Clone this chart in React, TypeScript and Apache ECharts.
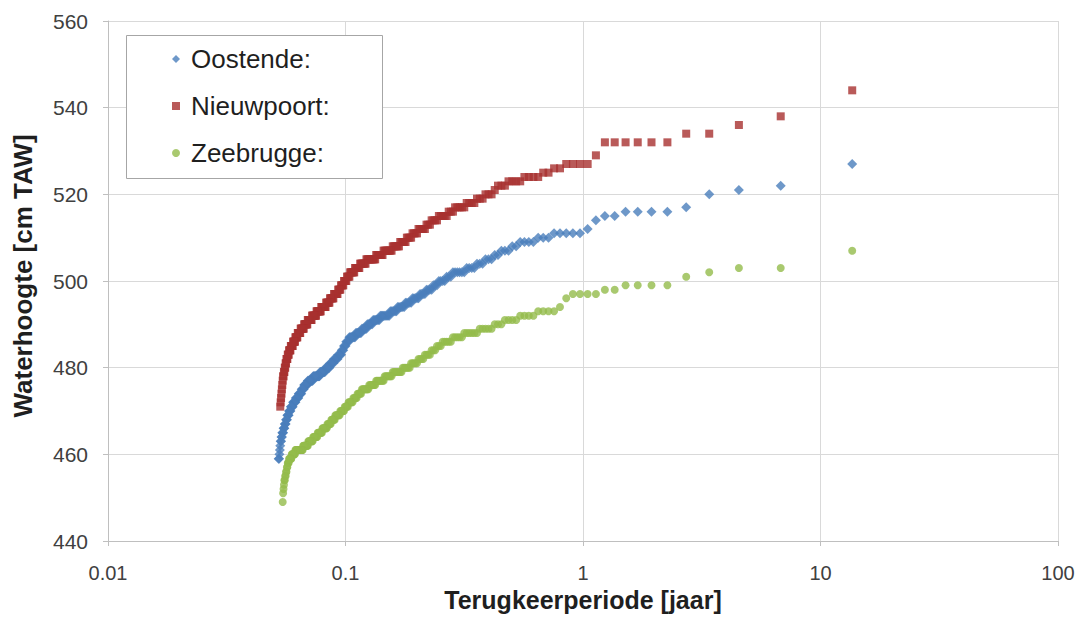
import React, { useEffect, useRef } from "react";
import * as echarts from "echarts";

// Length of the record in years: return period of rank k = recordYears / k
const recordYears = 13.6;

const xTickLabels = ["0.01", "0.1", "1", "10", "100"];
const seriesNames = ["Oostende:", "Nieuwpoort:", "Zeebrugge:"];

// Water levels [cm TAW] sorted from highest to lowest, as [level, number of events]
const oostendeRuns: [number, number][] = [
  [527, 1], [522, 1], [521, 1], [520, 1], [517, 1], [516, 4], [515, 2], [514, 1], [512, 1],
  [511, 5], [510, 3], [509, 4], [508, 2], [507, 3], [506, 2], [505, 3], [504, 3], [503, 4],
  [502, 6], [501, 3], [500, 4], [499, 3], [498, 4], [497, 4], [496, 5], [495, 5], [494, 6],
  [493, 6], [492, 9], [491, 7], [490, 6], [489, 6], [488, 7], [487, 8], [486, 4], [485, 3],
  [484, 3], [483, 5], [482, 6], [481, 6], [480, 7], [479, 9], [478, 12], [477, 10], [476, 7],
  [475, 5], [474, 6], [473, 6], [472, 6], [471, 5], [470, 4], [469, 4], [468, 3], [467, 3],
  [466, 3], [465, 3], [464, 2], [463, 2], [462, 1], [461, 1], [460, 1], [459, 2],
];

const nieuwpoortRuns: [number, number][] = [
  [544, 1], [538, 1], [536, 1], [534, 2], [532, 6], [529, 1], [527, 4], [526, 2], [525, 2],
  [524, 4], [523, 4], [522, 3], [521, 1], [520, 3], [519, 3], [518, 4], [517, 5], [516, 3],
  [515, 5], [514, 4], [513, 3], [512, 5], [511, 4], [510, 4], [509, 5], [508, 6], [507, 8],
  [506, 7], [505, 10], [504, 7], [503, 6], [502, 6], [501, 4], [500, 4], [499, 4], [498, 4],
  [497, 6], [496, 6], [495, 6], [494, 8], [493, 8], [492, 8], [491, 8], [490, 7], [489, 7],
  [488, 6], [487, 5], [486, 5], [485, 5], [484, 4], [483, 3], [482, 3], [481, 2], [480, 2],
  [479, 2], [478, 2], [477, 1], [476, 1], [475, 1], [474, 1], [473, 1], [472, 1], [471, 1],
];

const zeebruggeRuns: [number, number][] = [
  [507, 1], [503, 2], [502, 1], [501, 1], [499, 4], [498, 2], [497, 4], [496, 1], [494, 1],
  [493, 4], [492, 4], [491, 4], [490, 3], [489, 5], [488, 6], [487, 5], [486, 5], [485, 3],
  [484, 3], [483, 4], [482, 4], [481, 5], [480, 6], [479, 8], [478, 7], [477, 8], [476, 7],
  [475, 8], [474, 5], [473, 5], [472, 6], [471, 5], [470, 6], [469, 7], [468, 6], [467, 6],
  [466, 8], [465, 8], [464, 8], [463, 9], [462, 10], [461, 16], [460, 8], [459, 6], [458, 3],
  [457, 2], [456, 2], [455, 2], [454, 2], [453, 1], [452, 1], [451, 1], [449, 1],
];

function toPoints(runs: [number, number][]): [number, number][] {
  const pts: [number, number][] = [];
  let rank = 0;
  for (const [level, count] of runs) {
    for (let i = 0; i < count; i++) {
      rank += 1;
      pts.push([recordYears / rank, level]);
    }
  }
  return pts;
}

const FONT = "'Liberation Sans', Arial, sans-serif";

export default function App() {
  const ref = useRef<HTMLDivElement>(null);

  useEffect(() => {
    if (!ref.current) return;
    const chart = echarts.init(ref.current, undefined, { renderer: "svg" });
    const gridColor = "#d9d9d9";
    const axisColor = "#bfbfbf";
    chart.setOption({
      animation: false,
      backgroundColor: "#ffffff",
      textStyle: { fontFamily: FONT },
      grid: { left: 108, right: 23, top: 21, bottom: 80 },
      xAxis: {
        type: "log",
        logBase: 10,
        min: 0.01,
        max: 100,
        name: "Terugkeerperiode [jaar]",
        nameLocation: "middle",
        nameGap: 42,
        nameTextStyle: { fontSize: 25, fontWeight: "bold", color: "#1f1f1f", fontFamily: FONT },
        axisLine: { show: true, lineStyle: { color: axisColor, width: 1 } },
        axisTick: { show: true, length: 5, lineStyle: { color: axisColor } },
        minorTick: { show: false },
        splitLine: { show: true, lineStyle: { color: gridColor, width: 1 } },
        axisLabel: {
          fontSize: 20,
          color: "#404040",
          margin: 22,
          fontFamily: FONT,
          formatter: (v: number) => {
            const i = Math.round(Math.log10(v)) + 2;
            return xTickLabels[i] ?? "";
          },
        },
      },
      yAxis: {
        type: "value",
        min: 440,
        max: 560,
        interval: 20,
        name: "Waterhoogte [cm TAW]",
        nameLocation: "middle",
        nameGap: 72,
        nameTextStyle: {
          fontSize: 26,
          fontWeight: "bold",
          color: "#1f1f1f",
          fontFamily: FONT,
          padding: [0, 0, 0, 10],
        },
        axisLine: { show: true, lineStyle: { color: axisColor, width: 1 } },
        axisTick: { show: true, length: 5, lineStyle: { color: axisColor } },
        splitLine: { show: true, lineStyle: { color: gridColor, width: 1 } },
        axisLabel: { fontSize: 21, color: "#404040", margin: 20, fontFamily: FONT },
      },
      legend: {
        orient: "vertical",
        left: 172,
        top: 46,
        padding: 0,
        itemGap: 21,
        itemWidth: 8,
        itemHeight: 8,
        data: seriesNames,
        textStyle: { fontSize: 26, color: "#1f1f1f", fontFamily: FONT, padding: [0, 0, 0, 6] },
      },
      graphic: [
        {
          type: "rect",
          z: 3,
          shape: { x: 126.5, y: 35.5, width: 256, height: 143 },
          style: { fill: "#ffffff", stroke: "#a6a6a6", lineWidth: 1 },
        },
      ],
      series: [
        {
          name: seriesNames[0],
          type: "scatter",
          symbol: "diamond",
          symbolSize: 10,
          itemStyle: { color: "#4a7ebb" },
          data: toPoints(oostendeRuns),
        },
        {
          name: seriesNames[1],
          type: "scatter",
          symbol: "rect",
          symbolSize: 8,
          itemStyle: { color: "#a8312f" },
          data: toPoints(nieuwpoortRuns),
        },
        {
          name: seriesNames[2],
          type: "scatter",
          symbol: "circle",
          symbolSize: 8,
          itemStyle: { color: "#93bc4b" },
          data: toPoints(zeebruggeRuns),
        },
      ],
    });
    return () => chart.dispose();
  }, []);

  return (
    <div
      ref={ref}
      style={{ position: "fixed", left: 0, top: 0, width: 1081, height: 621, background: "#fff" }}
    />
  );
}
